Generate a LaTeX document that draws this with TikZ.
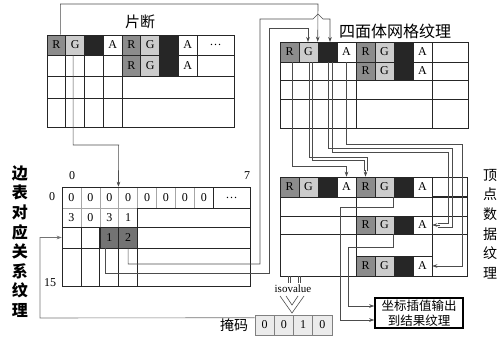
\documentclass[tikz,border=0pt]{standalone}
\usepackage{fontspec}
\setmainfont{Liberation Serif}
\newfontfamily\cjk{Noto Sans CJK SC}
\usetikzlibrary{arrows.meta}

\tikzset{
  tline/.style={draw=black!85, line width=0.8pt},
  cellbox/.style={draw=black!85, line width=0.6pt, inner sep=0pt, font=\fontsize{12}{12}\selectfont},
  cR/.style={cellbox, fill=black!45},
  cG/.style={cellbox, fill=black!20},
  cB/.style={cellbox, fill=black!85},
  cA/.style={cellbox, fill=white},
  conn/.style={draw=black!70, line width=0.6pt},
  arr/.style={conn, -{Stealth[length=5pt,width=3.6pt]}},
  zcell/.style={draw=black!35, line width=0.5pt, densely dotted, inner sep=0pt, minimum width=18.9, font=\fontsize{12}{12}\selectfont},
  mcell/.style={draw=black!50, fill=black!8, line width=0.6pt, inner sep=0pt, minimum width=19.25, minimum height=20, font=\fontsize{12}{12}\selectfont},
  numlab/.style={inner sep=0pt, font=\fontsize{12}{12}\selectfont},
  cjklab/.style={inner sep=0pt, font=\cjk\fontsize{15}{15}\selectfont},
}

\newcommand\rgbagroup[5]{%
  \begin{scope}[shift={(#2,#3)}]
    \node[cR,minimum width=#4,minimum height=#5] (#1R) at (0.5*#4,0.5*#5) {R};
    \node[cG,minimum width=#4,minimum height=#5] (#1G) at (1.5*#4,0.5*#5) {G};
    \node[cB,minimum width=#4,minimum height=#5] (#1B) at (2.5*#4,0.5*#5) {};
    \node[cA,minimum width=#4,minimum height=#5] (#1A) at (3.5*#4,0.5*#5) {A};
  \end{scope}}

\begin{document}
\begin{tikzpicture}[x=1pt,y=-1pt]
\path[use as bounding box] (0,0) rectangle (497,339);

% ---------------- fragment table ----------------
\rgbagroup{fa}{47}{35}{18.75}{20}
\rgbagroup{fb}{122}{35}{18.75}{20}
\node[cellbox, minimum width=37, minimum height=20] (fdots) at (215.5,45) {\dots};
\rgbagroup{fc}{122}{55}{18.75}{21}
\draw[tline] (47,35) rectangle (234,127);
\draw[tline] (47,55) -- (234,55) (47,76) -- (234,76) (47,98) -- (234,98);
\foreach \xx in {65.75,84.5,103.25,122} \draw[tline] (\xx,55) -- (\xx,127);
\draw[tline] (197,55) -- (197,76);
\node[cjklab] (lfrag) at (140,22) {片断};

% ---------------- tetrahedral mesh table ----------------
\rgbagroup{ta}{280}{42}{19}{20}
\rgbagroup{tb}{356}{42}{19}{20}
\node[cellbox, minimum width=36, minimum height=20] (tempty) at (450,52) {};
\rgbagroup{tc}{356}{62}{19}{18}
\draw[tline] (280,42) rectangle (468,128);
\draw[tline] (280,62) -- (468,62) (280,80) -- (468,80) (280,99) -- (468,99);
\draw[tline] (356,62) -- (356,128) (432,62) -- (432,128);
\node[cjklab, font=\cjk\fontsize{16}{16}\selectfont] (ltet) at (395,31) {四面体网格纹理};

% ---------------- vertex data table ----------------
\rgbagroup{va}{280}{177}{19}{20}
\rgbagroup{vb}{356}{177}{19}{20}
\node[cellbox, minimum width=35, minimum height=20] (vempty) at (449.5,187) {};
\rgbagroup{vc}{356}{216}{19}{18}
\rgbagroup{vd}{356}{256}{19}{20}
\draw[tline] (280,177) rectangle (467,276);
\draw[tline] (280,197) -- (467,197) (280,216) -- (467,216) (280,234) -- (467,234);
\draw[tline, line width=1.4pt] (432,197) -- (467,197);
\draw[tline] (356,197) -- (356,276) (432,197) -- (432,276);
\node[inner sep=0pt, align=center, font=\cjk\fontsize{14}{19.6}\selectfont] (lvert) at (490,224) {顶\\点\\数\\据\\纹\\理};

% ---------------- edge table ----------------
\foreach \i in {0,...,7} \node[zcell, minimum height=21] (e1\i) at (62+18.9*\i+9.45,197.5) {0};
\foreach \v [count=\i from 0] in {3,0,3,1} \node[zcell, minimum height=19] (e2\i) at (62+18.9*\i+9.45,217.5) {\v};
\node[cellbox, minimum width=36.8, minimum height=21] (edots) at (231.6,197.5) {\dots};
\node[cellbox, minimum width=18.9, minimum height=21, draw=none] (e30) at (71.45,237.5) {};
\node[cellbox, minimum width=18.9, minimum height=21, draw=none] (e31) at (90.35,237.5) {};
\node[cellbox, fill=black!55, minimum width=18.9, minimum height=21] (e32) at (109.25,237.5) {1};
\node[cellbox, fill=black!55, minimum width=18.9, minimum height=21] (e33) at (128.15,237.5) {2};
\draw[tline] (62,187) rectangle (250,286);
\draw[tline] (137.6,208) -- (250,208) (62,227) -- (250,227) (62,248) -- (250,248);
\foreach \xx in {80.9,99.8,118.7} \draw[tline] (\xx,227) -- (\xx,286);
\draw[tline] (137.6,208) -- (137.6,286) (213.2,187) -- (213.2,208);
\node[numlab] (n0) at (72,176) {0};
\node[numlab] (n7) at (247,176) {7};
\node[numlab] (nr0) at (52,197) {0};
\node[numlab] (n15) at (50,283) {15};
\node[inner sep=0pt, align=center, font=\cjk\bfseries\fontsize{16}{19.6}\selectfont] (ledge) at (20,241.5) {边\\表\\对\\应\\关\\系\\纹\\理};

% ---------------- mask & output ----------------
\foreach \v [count=\i from 0] in {0,0,1,0} \node[mcell] (m\i) at (255+19.25*\i+9.625,325) {\v};
\node[cjklab, font=\cjk\fontsize{14}{14}\selectfont] (lmask) at (234,325) {掩码};
\node[draw=black, line width=1.6pt, minimum width=88, minimum height=30, inner sep=0pt, align=center,
      font=\cjk\fontsize{12.5}{15}\selectfont] (outbox) at (419,313) {坐标插值输出\\到结果纹理};
\node[inner sep=0pt, font=\fontsize{11}{11}\selectfont] (iso) at (293,289) {isovalue};

% ---------------- connectors ----------------
% fragment -> tetra table
\draw[arr] ([xshift=4]faR.north) |- (318,4) -- (taB.north west);
% fragment -> edge table
\draw[arr] ([xshift=-2]faG.south) |- (118.7,145) -- (e13.north west);
% edge "2" -> tetra
\draw[arr] (e33.south) |- (260,264) -- (260,19) -- (313,19) -- (318,14) -- (323,19) -- (330,19) -- (330,42);
% edge "1" -> tetra
\draw[arr] ([xshift=-4]e32.south) |- (269,273) |- (308,28) -- (308,42);
% tetra -> vertex
\draw[arr] ([xshift=2.5]taR.south) |- ([yshift=10]vaA.north) -- (vaA.north);
\draw[conn] ([xshift=1]taG.south) |- (367,157) -- (367,171);
\draw[conn] ([xshift=4]taG.south) |- (364,160) -- (364,171);
\draw[arr] (365.5,170) -- (vbR.north);
\draw[conn] ([xshift=0.5]taB.south) |- (452,148) |- (438,227);
\draw[conn] ([xshift=4.5]taB.south) |- (448,152) |- (438,223);
\draw[arr] (440,225) -- (vcA.east);
\draw[arr] (taA.south) |- (462,144) |- (vdA.east);
% vertex -> output box
\draw[arr] ([xshift=-1]vbG.south east) |- (340,207) |- ([yshift=-7]outbox.west);
\draw[arr] ([xshift=-1]vcG.south east) |- (348,247) |- ([yshift=7]outbox.west);
% vertex -> isovalue -> mask
\draw[conn] (288,276) -- (288,283) (290.5,276) -- (290.5,283);
\draw[conn] (298,276) -- (298,283) (300.5,276) -- (300.5,283);
\draw[conn] (280,296) -- (292,313) -- (304,296);
\draw[conn] (286,296) -- (292,305) -- (298,296);
% mask -> edge table
\draw[arr, draw=black!55] ([yshift=-3]m0.north west) -- (40,318) |- (e30.west);
\end{tikzpicture}
\end{document}
